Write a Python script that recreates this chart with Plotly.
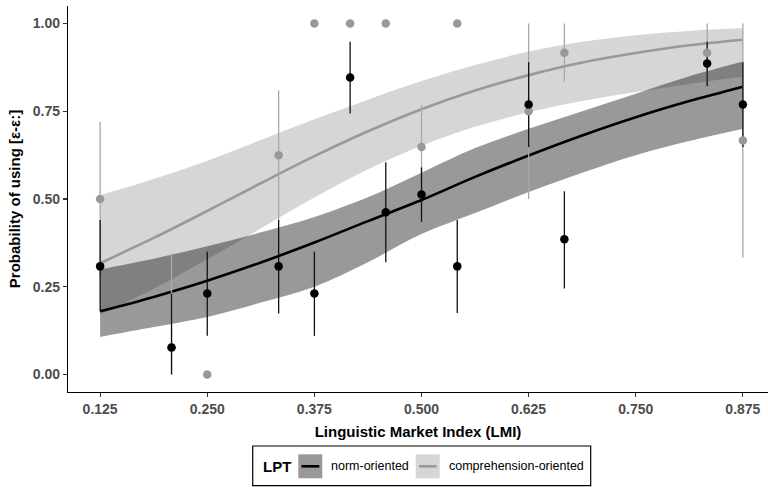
import plotly.graph_objects as go

# ---------------- data ----------------
# observed proportions per LMI value
lmi = [0.125, 0.2083, 0.25, 0.3333, 0.375, 0.4167, 0.4583, 0.5, 0.5417, 0.625, 0.6667, 0.8333, 0.875]

norm_p = [0.308, 0.077, 0.231, 0.308, 0.231, 0.846, 0.462, 0.513, 0.308, 0.769, 0.385, 0.886, 0.769]
norm_lo = [0.18, 0.0, 0.11, 0.174, 0.11, 0.744, 0.32, 0.435, 0.175, 0.648, 0.245, 0.821, 0.648]
norm_hi = [0.44, 0.23, 0.35, 0.44, 0.35, 0.948, 0.605, 0.59, 0.44, 0.89, 0.522, 0.948, 0.89]

comp_p = [0.5, 0.077, 0.0, 0.625, 1.0, 1.0, 1.0, 0.648, 1.0, 0.75, 0.917, 0.917, 0.667]
comp_lo = [0.28, 0.0, 0.0, 0.44, 1.0, 1.0, 1.0, 0.53, 1.0, 0.5, 0.834, 0.834, 0.333]
comp_hi = [0.72, 0.345, 0.0, 0.81, 1.0, 1.0, 1.0, 0.768, 1.0, 1.0, 1.0, 1.0, 1.0]

# fitted curves and confidence bands
fit_x = [0.125, 0.1875, 0.25, 0.3125, 0.375, 0.4375, 0.5, 0.5625, 0.625, 0.6875, 0.75, 0.8125, 0.875]

norm_fit = [0.18, 0.221, 0.267, 0.319, 0.376, 0.437, 0.497, 0.563, 0.624, 0.681, 0.733, 0.779, 0.82]
norm_fit_lo = [0.107, 0.135, 0.164, 0.205, 0.25, 0.32, 0.40, 0.46, 0.52, 0.575, 0.625, 0.665, 0.70]
norm_fit_hi = [0.30, 0.33, 0.365, 0.405, 0.449, 0.505, 0.575, 0.645, 0.70, 0.75, 0.80, 0.85, 0.892]

comp_fit = [0.317, 0.389, 0.466, 0.545, 0.622, 0.693, 0.756, 0.809, 0.853, 0.889, 0.916, 0.938, 0.954]
comp_fit_lo = [0.171, 0.244, 0.328, 0.416, 0.504, 0.585, 0.652, 0.706, 0.747, 0.779, 0.805, 0.828, 0.849]
comp_fit_hi = [0.511, 0.557, 0.609, 0.668, 0.727, 0.783, 0.836, 0.882, 0.920, 0.948, 0.967, 0.979, 0.987]

x_ticks = [0.125, 0.25, 0.375, 0.5, 0.625, 0.75, 0.875]
x_tick_labels = ["0.125", "0.250", "0.375", "0.500", "0.625", "0.750", "0.875"]
y_ticks = [0.0, 0.25, 0.5, 0.75, 1.0]
y_tick_labels = ["0.00", "0.25", "0.50", "0.75", "1.00"]

series_names = ["norm-oriented", "comprehension-oriented"]

# ---------------- styles ----------------
FONT = "Liberation Sans"
NORM_FILL = "rgba(0,0,0,0.4)"
COMP_FILL = "rgba(153,153,153,0.4)"
NORM_COL = "#000000"
COMP_COL = "#999999"
COMP_BAR = "#a8a8a8"

fig = go.Figure()

# ribbons
fig.add_trace(go.Scatter(x=fit_x, y=comp_fit_lo, mode="lines", line=dict(width=0, shape="spline"),
                         hoverinfo="skip", showlegend=False))
fig.add_trace(go.Scatter(x=fit_x, y=comp_fit_hi, mode="lines", line=dict(width=0, shape="spline"),
                         fill="tonexty", fillcolor=COMP_FILL, hoverinfo="skip", showlegend=False))
fig.add_trace(go.Scatter(x=fit_x, y=norm_fit_lo, mode="lines", line=dict(width=0, shape="spline"),
                         hoverinfo="skip", showlegend=False))
fig.add_trace(go.Scatter(x=fit_x, y=norm_fit_hi, mode="lines", line=dict(width=0, shape="spline"),
                         fill="tonexty", fillcolor=NORM_FILL, hoverinfo="skip", showlegend=False))

# fitted lines
fig.add_trace(go.Scatter(x=fit_x, y=comp_fit, mode="lines", line=dict(color=COMP_COL, width=2.6, shape="spline"),
                         showlegend=False))
fig.add_trace(go.Scatter(x=fit_x, y=norm_fit, mode="lines", line=dict(color=NORM_COL, width=2.6, shape="spline"),
                         showlegend=False))

# error bars (ranges)
def bars(p, lo, hi, col):
    return go.Scatter(
        x=lmi, y=p, mode="markers",
        marker=dict(size=1, color="rgba(0,0,0,0)"),
        error_y=dict(type="data", symmetric=False,
                     array=[h - v for h, v in zip(hi, p)],
                     arrayminus=[v - l for v, l in zip(p, lo)],
                     width=0, thickness=1.3, color=col),
        showlegend=False, hoverinfo="skip")

fig.add_trace(bars(comp_p, comp_lo, comp_hi, COMP_BAR))
fig.add_trace(bars(norm_p, norm_lo, norm_hi, "#111111"))

# points
fig.add_trace(go.Scatter(x=lmi, y=comp_p, mode="markers", marker=dict(size=8.5, color=COMP_COL),
                         name=series_names[1], showlegend=False))
fig.add_trace(go.Scatter(x=lmi, y=norm_p, mode="markers", marker=dict(size=8.5, color=NORM_COL),
                         name=series_names[0], showlegend=False))

# ---------------- axes ----------------
axis_common = dict(showgrid=False, zeroline=False, showline=True, linecolor="black", linewidth=1.2,
                   ticks="outside", ticklen=4, tickwidth=1.1, tickcolor="#333333",
                   tickfont=dict(family=FONT, size=14, color="#4d4d4d", weight="bold"))

fig.update_xaxes(range=[0.0875, 0.9043], tickvals=x_ticks, ticktext=x_tick_labels,
                 title=dict(text="Linguistic Market Index (LMI)", standoff=10,
                            font=dict(family=FONT, size=15, color="black", weight="bold")),
                 **axis_common)
fig.update_yaxes(range=[-0.05, 1.05], tickvals=y_ticks, ticktext=y_tick_labels,
                 title=dict(text="Probability of using [ε-ε:]", standoff=8,
                            font=dict(family=FONT, size=15, color="black", weight="bold")),
                 **axis_common)

# ---------------- legend (drawn manually, ggplot-style) ----------------
L, W = 68.0, 700.0
B, H = 392.0, 386.0
def px(X):
    return (X - L) / W
def py(Y):
    return (B - Y) / H

shapes = [
    dict(type="rect", xref="paper", yref="paper", x0=px(252.7), x1=px(590.7), y0=py(446), y1=py(485.7),
         line=dict(color="black", width=1.2), fillcolor="white"),
    dict(type="rect", xref="paper", yref="paper", x0=px(298.3), x1=px(322.3), y0=py(454.3), y1=py(478.3),
         line=dict(width=0), fillcolor=NORM_FILL),
    dict(type="line", xref="paper", yref="paper", x0=px(301.5), x1=px(319.3), y0=py(466.3), y1=py(466.3),
         line=dict(color=NORM_COL, width=2.6)),
    dict(type="rect", xref="paper", yref="paper", x0=px(415.7), x1=px(439.7), y0=py(454.3), y1=py(478.3),
         line=dict(width=0), fillcolor=COMP_FILL),
    dict(type="line", xref="paper", yref="paper", x0=px(419), x1=px(436.5), y0=py(466.3), y1=py(466.3),
         line=dict(color=COMP_COL, width=2.6)),
]
annotations = [
    dict(text="LPT", xref="paper", yref="paper", x=px(260.5), y=py(466.3), xanchor="left", yanchor="middle",
         showarrow=False, font=dict(family=FONT, size=15, color="black", weight="bold")),
    dict(text=series_names[0], xref="paper", yref="paper", x=px(329), y=py(466.3), xanchor="left",
         yanchor="middle", showarrow=False, font=dict(family=FONT, size=12.5, color="black")),
    dict(text=series_names[1], xref="paper", yref="paper", x=px(446.5), y=py(466.3), xanchor="left",
         yanchor="middle", showarrow=False, font=dict(family=FONT, size=12.5, color="black")),
]

fig.update_layout(width=768, height=487, margin=dict(l=68, r=0, t=6, b=95),
                  plot_bgcolor="white", paper_bgcolor="white", showlegend=False,
                  shapes=shapes, annotations=annotations, font=dict(family=FONT))

fig.write_html("out.html", config={"displayModeBar": False, "staticPlot": True},
               post_script="document.body.style.margin='0px';document.body.style.overflow='hidden';")
